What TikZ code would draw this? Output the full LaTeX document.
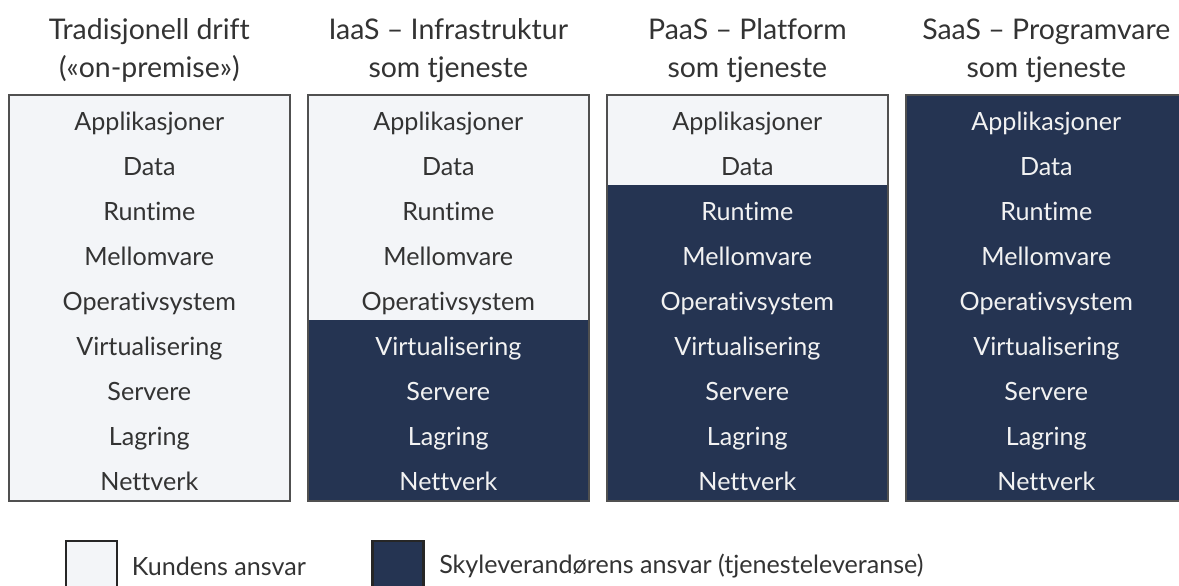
\documentclass[tikz,border=0pt]{standalone}
\usepackage{fontspec}
\setmainfont[Ligatures=NoCommon]{Lato}
\usetikzlibrary{matrix,positioning}
\definecolor{navy}{RGB}{37,52,82}
\definecolor{paper}{RGB}{243,245,248}
\definecolor{ink}{RGB}{51,51,51}
\definecolor{rimgray}{RGB}{80,80,80}
\tikzstyle{layer} = [minimum width=5.6cm, minimum height=0.9cm, inner sep=0pt, text height=15pt, text depth=0.8pt, font=\fontsize{14.3}{16}\selectfont]
\tikzstyle{light} = [layer, fill=paper, text=ink]
\tikzstyle{dark} = [layer, fill=navy, text=white!95!black]
\tikzstyle{stack} = [matrix of nodes, row sep=0pt, inner sep=0pt, nodes={light}, anchor=north west]
\tikzstyle{boxframe} = [draw=rimgray, line width=1pt]
\tikzstyle{head} = [align=center, text=ink, inner sep=0pt, font=\fontsize{16.2}{21.5}\selectfont]
\tikzstyle{legbox} = [minimum size=1.02cm, inner sep=0pt, draw=black!85, line width=1.6pt]
\tikzstyle{legtext} = [anchor=west, inner sep=0pt, text=ink, font=\fontsize{14.3}{16}\selectfont]

\begin{document}
\begin{tikzpicture}[x=0.02cm, y=-0.02cm]
	\useasboundingbox (0,0) rectangle (1179,585);
	\clip (0,0) rectangle (1179,585);
	% the four service models
	\matrix (trad) at (9,95) [stack] {
		Applikasjoner \\ Data \\ Runtime \\ Mellomvare \\ Operativsystem \\
		Virtualisering \\ Servere \\ Lagring \\ Nettverk \\
	};
	\matrix (iaas) at (308,95) [stack] {
		Applikasjoner \\ Data \\ Runtime \\ Mellomvare \\ Operativsystem \\
		|[dark]| Virtualisering \\ |[dark]| Servere \\ |[dark]| Lagring \\ |[dark]| Nettverk \\
	};
	\matrix (paas) at (607,95) [stack] {
		Applikasjoner \\ Data \\ |[dark]| Runtime \\ |[dark]| Mellomvare \\ |[dark]| Operativsystem \\
		|[dark]| Virtualisering \\ |[dark]| Servere \\ |[dark]| Lagring \\ |[dark]| Nettverk \\
	};
	\matrix (saas) at (906,95) [stack] {
		|[dark]| Applikasjoner \\ |[dark]| Data \\ |[dark]| Runtime \\ |[dark]| Mellomvare \\ |[dark]| Operativsystem \\
		|[dark]| Virtualisering \\ |[dark]| Servere \\ |[dark]| Lagring \\ |[dark]| Nettverk \\
	};
	\foreach \col in {trad,iaas,paas,saas}
		\draw[boxframe] (\col.north west) rectangle (\col.south east);
	% headings
	\node[head, above=0.24cm of trad] (tradhead) {Tradisjonell drift\\(«on-premise»)};
	\node[head, above=0.24cm of iaas] (iaashead) {IaaS – Infrastruktur\\som tjeneste};
	\node[head, above=0.24cm of paas] (paashead) {PaaS – Platform\\som tjeneste};
	\node[head, above=0.24cm of saas] (saashead) {SaaS – Programvare\\som tjeneste};
	% legend
	\node[legbox, fill=paper] (kunde) at (91.5,566.5) {};
	\node[legtext, right=0.26cm of kunde] (kundetxt) {Kundens ansvar};
	\node[legbox, fill=navy] (sky) at (398,566.5) {};
	\node[legtext, right=0.28cm of sky] (skytxt) {Skyleverandørens ansvar (tjenesteleveranse)};
\end{tikzpicture}
\end{document}
